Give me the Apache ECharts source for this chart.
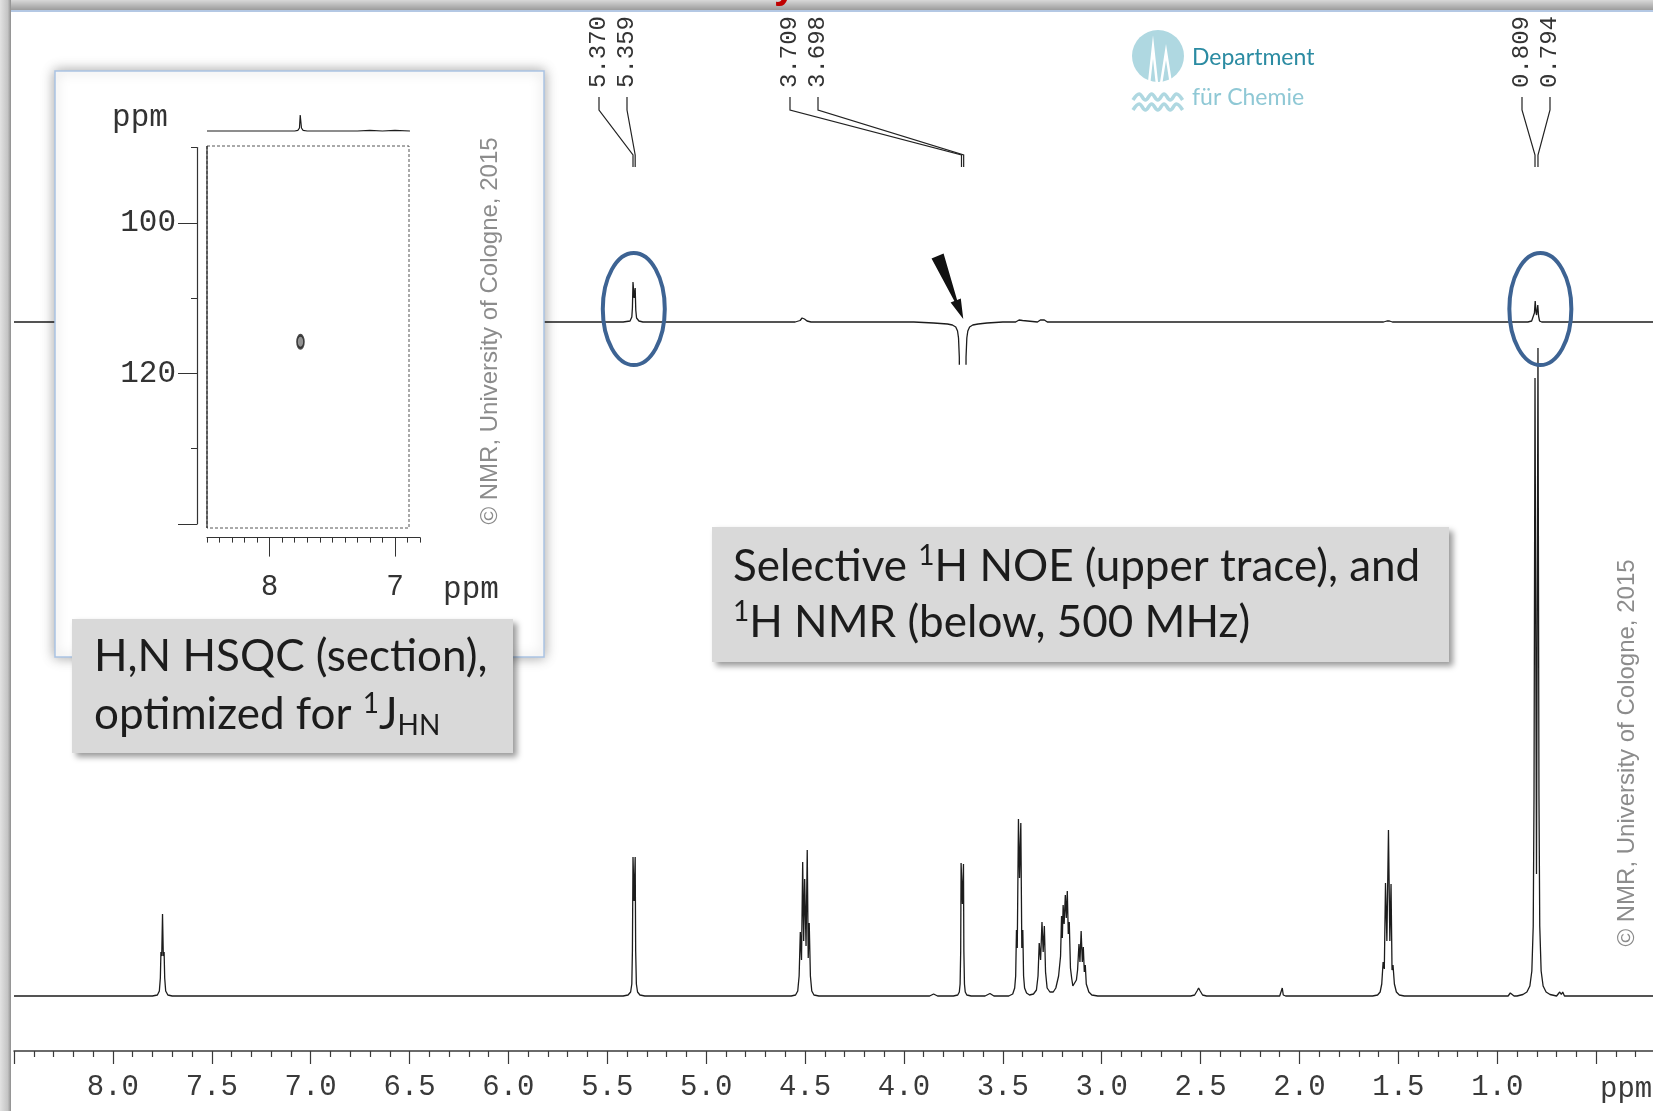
<!DOCTYPE html>
<html>
<head>
<meta charset="utf-8">
<title>Selective NOE / 1H NMR</title>
<script src="https://cdn.jsdelivr.net/npm/echarts@6/dist/echarts.min.js"></script>
<style>
html,body{margin:0;padding:0;background:#fff;}
#chart{width:1653px;height:1111px;}
</style>
</head>
<body>
<div id="chart"></div>
<script>
// 1H NMR trace (lower), [ppm, intensity]
var nmrTrace = [
  [8.50,0],[7.80,0],[7.775,1],[7.765,5],[7.760,18],[7.757,44],[7.753,40],[7.749,82],[7.745,40],[7.741,44],[7.738,18],[7.733,5],[7.722,1],[7.70,0],
  [5.42,0],[5.395,1],[5.382,4],[5.376,12],[5.373,45],[5.370,139],[5.3645,95],[5.359,139],[5.3565,45],[5.353,12],[5.347,4],[5.335,1],[5.31,0],
  [4.57,0],[4.548,1],[4.537,5],[4.530,20],[4.524,64],[4.518,36],[4.512,134],[4.507,55],[4.502,117],[4.495,50],[4.489,146],[4.484,38],[4.479,73],[4.473,20],[4.466,5],[4.455,1],[4.43,0],
  [3.87,0],[3.85,2],[3.83,0],
  [3.75,0],[3.728,1],[3.720,4],[3.716,12],[3.713,45],[3.711,133],[3.7045,92],[3.699,132],[3.697,45],[3.694,12],[3.690,4],[3.682,1],[3.66,0],
  [3.59,0],[3.565,2.5],[3.545,0],
  [3.47,0],[3.450,2],[3.440,8],[3.435,20],[3.431,66],[3.427,48],[3.421,177],[3.4155,118],[3.409,173],[3.404,48],[3.399,66],[3.395,20],[3.390,8],[3.380,3],[3.365,1],
  [3.345,2],[3.330,6],[3.322,20],[3.316,53],[3.309,36],[3.302,74],[3.296,44],[3.290,70],[3.284,24],[3.276,8],[3.262,4],[3.245,4],
  [3.232,8],[3.218,20],[3.208,40],[3.203,80],[3.199,58],[3.195,91],[3.190,72],[3.184,101],[3.179,78],[3.174,105],[3.169,62],[3.164,74],[3.158,28],[3.152,18],[3.146,10],[3.138,9],
  [3.128,16],[3.122,26],[3.115,52],[3.110,34],[3.104,65],[3.098,34],[3.093,49],[3.088,24],[3.083,31],[3.078,12],[3.072,14],[3.065,4],[3.050,1],[3.02,0],
  [2.55,0],[2.530,1],[2.518,5],[2.510,8],[2.502,5],[2.490,1],[2.47,0],
  [2.10,0],[2.092,1],[2.087,8],[2.082,1],[2.07,0],
  [1.63,0],[1.605,1],[1.592,4],[1.584,12],[1.577,34],[1.571,27],[1.565,113],[1.558,55],[1.550,166],[1.543,55],[1.537,112],[1.532,26],[1.527,31],[1.520,12],[1.510,4],[1.495,1],[1.47,0],
  [0.945,0],[0.934,3],[0.930,1.5],[0.926,3],[0.915,0],
  [0.90,0],[0.87,1.5],[0.85,4],[0.835,10],[0.825,25],[0.818,70],[0.814,200],[0.809,618],[0.8015,122],[0.794,648],[0.789,200],[0.785,70],[0.778,25],[0.768,10],[0.753,4],[0.733,1.5],[0.70,0],
  [0.69,0],[0.684,4],[0.676,1.5],[0.669,4],[0.66,0],
  [0.00,0]
];

// selective NOE trace (upper), [ppm, intensity]; the 3.70 dip runs off the bottom
var noeTrace = [
  [8.50,0],[5.42,0],[5.385,1],[5.376,5],[5.373,14],[5.370,40],[5.3645,24],[5.359,34],[5.356,12],[5.352,4],[5.34,1],[5.32,0],
  [4.55,0],[4.525,1.5],[4.515,4],[4.510,5],[4.503,3],[4.49,1],[4.47,0],
  [3.95,0],[3.85,-1],[3.78,-2],[3.755,-3],[3.738,-5],[3.729,-9],[3.724,-16],[3.720,-35],[3.717,-200],[3.689,-200],[3.686,-35],[3.682,-16],[3.677,-9],[3.668,-5],[3.652,-3],[3.625,-2],[3.58,-1],[3.50,0],
  [3.435,0],[3.418,2],[3.410,2.5],[3.400,1.5],[3.39,0],
  [3.325,0],[3.310,2],[3.300,3],[3.290,2],[3.275,0],
  [1.575,0],[1.558,1],[1.545,1],[1.53,0],
  [0.845,0],[0.826,1],[0.816,3],[0.812,9],[0.808,21],[0.804,10],[0.801,7],[0.798,9],[0.795,17],[0.791,6],[0.786,1],[0.775,0],
  [0.00,0]
];

// HSQC inset: 1H projection and the single H,N cross peak [1H ppm, 15N ppm]
var hsqcProjection = [
  [8.50,0],[7.80,0],[7.775,0.6],[7.762,3],[7.756,16],[7.752,16],[7.746,3],[7.733,0.6],[7.70,0],
  [7.30,0],[7.20,0.6],[7.10,0],[7.00,0.6],[6.88,0]
];
var hsqcPeaks = [[7.754, 115.8]];

// tick labels
var ppmTickLabels = ['8.0','7.5','7.0','6.5','6.0','5.5','5.0','4.5','4.0','3.5','3.0','2.5','2.0','1.5','1.0'];
var hsqcHTicks = [6.8,6.9,7.0,7.1,7.2,7.3,7.4,7.5,7.6,7.7,7.8,7.9,8.0,8.1,8.2,8.3,8.4,8.5];
var hsqcHLabels = [7, 8];
var hsqcNTicks = [90,100,110,120,130,140];
var hsqcNMajor = [100,120,140];
var hsqcNLabels = [100,120];

// peak picking labels above the NOE trace
var peakLabels = ['5.370','5.359','3.709','3.698','0.809','0.794'];
var peakLabelX = [599, 627, 790, 818, 1522, 1550];
var circledPpm = [5.366, 0.782];

var MONO = '"Liberation Mono","DejaVu Sans Mono",monospace';
var SANS = '"Liberation Sans",Arial,sans-serif';
var CAL = 'Lato,"Open Sans",sans-serif';
var INK = '#1c1c1c';

var chart = echarts.init(document.getElementById('chart'));

var hiddenX = function (grid, min, max) {
  return {type:'value', gridIndex:grid, min:min, max:max, inverse:true, show:false};
};
var hiddenY = function (grid, min, max) {
  return {type:'value', gridIndex:grid, min:min, max:max, show:false};
};

chart.setOption({
  backgroundColor:'#fff',
  animation:false,
  grid:[
    {left:14, right:-42, top:296, bottom:60, outerBoundsMode:'none', containLabel:false},      // 1H spectrum + ppm axis
    {left:14, right:-42, top:222, bottom:747, outerBoundsMode:'none', containLabel:false},     // NOE trace
    {left:207, right:1233, top:147.6, bottom:587, outerBoundsMode:'none', containLabel:false}, // HSQC 2D
    {left:207, right:1233, top:100, bottom:978, outerBoundsMode:'none', containLabel:false}    // HSQC projection
  ],
  xAxis:[
    {type:'value', gridIndex:0, min:0, max:8.5, interval:0.5, inverse:true,
     axisLine:{onZero:false, lineStyle:{color:'#3a3a3a', width:1.5}},
     axisTick:{length:13, lineStyle:{color:'#3a3a3a', width:1.2}},
     minorTick:{show:true, splitNumber:5, length:6, lineStyle:{color:'#3a3a3a', width:1.2}},
     splitLine:{show:false},
     axisLabel:{margin:22, fontFamily:MONO, fontSize:29, color:'#3a3a3a',
       formatter:function (v) { var s = v.toFixed(1); return ppmTickLabels.indexOf(s) >= 0 ? s : ''; }}},
    hiddenX(1, 0, 8.5),
    {type:'value', gridIndex:2, min:6.8, max:8.5, inverse:true, position:'bottom', offset:13.6, z:20,
     axisLine:{onZero:false, lineStyle:{color:'#333', width:1.2}},
     axisTick:{customValues:hsqcHTicks, length:5, lineStyle:{color:'#333', width:1}},
     axisLabel:{show:false}, splitLine:{show:false}},
    {type:'value', gridIndex:2, min:6.8, max:8.5, inverse:true, position:'bottom', offset:13.6, z:20,
     axisLine:{show:false, onZero:false},
     axisTick:{customValues:hsqcHLabels, length:19, lineStyle:{color:'#333', width:1}},
     axisLabel:{customValues:hsqcHLabels, margin:35, fontFamily:SANS, fontSize:29, color:'#333'},
     splitLine:{show:false}},
    hiddenX(3, 6.8, 8.5)
  ],
  yAxis:[
    hiddenY(0, -55, 700),
    hiddenY(1, -42, 100),
    {type:'value', gridIndex:2, min:90, max:140, inverse:true, position:'left', offset:10, z:20,
     axisLine:{show:true, onZero:false, lineStyle:{color:'#333', width:1.2}},
     axisTick:{show:true, customValues:hsqcNTicks, length:6, lineStyle:{color:'#333', width:1}},
     axisLabel:{show:false}, splitLine:{show:false}},
    {type:'value', gridIndex:2, min:90, max:140, inverse:true, position:'left', offset:10, z:20,
     axisLine:{show:false, onZero:false},
     axisTick:{show:true, customValues:hsqcNMajor, length:19, lineStyle:{color:'#333', width:1}},
     axisLabel:{customValues:hsqcNLabels, margin:21, fontFamily:MONO, fontSize:31, color:'#333'},
     splitLine:{show:false}},
    hiddenY(3, -2, 31)
  ],
  series:[
    {type:'line', xAxisIndex:0, yAxisIndex:0, data:nmrTrace, showSymbol:false, silent:true,
     lineStyle:{color:INK, width:1.3}},
    {type:'line', xAxisIndex:1, yAxisIndex:1, data:noeTrace, showSymbol:false, silent:true,
     lineStyle:{color:INK, width:1.3}},
    {type:'line', xAxisIndex:4, yAxisIndex:4, data:hsqcProjection, showSymbol:false, silent:true, z:20,
     lineStyle:{color:INK, width:1.2}},
    {type:'scatter', xAxisIndex:2, yAxisIndex:2, data:hsqcPeaks, symbol:'circle', symbolSize:[7,13], z:20,
     itemStyle:{color:'#777', borderColor:INK, borderWidth:2.2}}
  ]
});

function toPx(seriesIndex, ppm, val) {
  return chart.convertToPixel({seriesIndex:seriesIndex}, [ppm, val]);
}

var g = [];

// frame bars of the slide
g.push({type:'rect', z:100, shape:{x:0, y:0, width:1653, height:10},
  style:{fill:new echarts.graphic.LinearGradient(0,0,0,1,[{offset:0,color:'#d8d8d8'},{offset:1,color:'#9c9c9c'}])}});
g.push({type:'line', z:100, shape:{x1:0, y1:11, x2:1653, y2:11}, style:{stroke:'#b4c8e4', lineWidth:2}});
g.push({type:'rect', z:100, shape:{x:0, y:0, width:11, height:1111},
  style:{fill:new echarts.graphic.LinearGradient(0,0,1,0,[{offset:0,color:'#e2e2e2'},{offset:0.7,color:'#c4c4c4'},{offset:1,color:'#8e8e8e'}])}});
g.push({type:'text', z:101, x:785, y:7,
  style:{text:'y', font:'bold 40px ' + SANS, fill:'#c00000', align:'center', verticalAlign:'bottom'}});

// HSQC inset panel
g.push({type:'rect', z:10, shape:{x:55, y:71, width:489, height:586},
  style:{fill:'#fff', stroke:'#aac3e4', lineWidth:1.5, shadowBlur:12, shadowColor:'rgba(0,0,0,0.35)'}});
g.push({type:'rect', z:21, shape:{x:207, y:146, width:202, height:382},
  style:{fill:'none', stroke:'#555', lineWidth:1, lineDash:[3,2]}});
g.push({type:'line', z:21, shape:{x1:207, y1:146, x2:207, y2:528}, style:{stroke:'#222', lineWidth:1.2}});
g.push({type:'text', z:21, x:140, y:118,
  style:{text:'ppm', font:'31px ' + MONO, fill:'#333', align:'center', verticalAlign:'middle'}});
g.push({type:'text', z:21, x:471, y:590,
  style:{text:'ppm', font:'31px ' + MONO, fill:'#333', align:'center', verticalAlign:'middle'}});
g.push({type:'text', z:22, x:490, y:331, rotation:Math.PI / 2,
  style:{text:'\u00a9 NMR, University of Cologne, 2015', font:'24px ' + SANS, fill:'#8c8c8c', align:'center', verticalAlign:'middle'}});

// copyright, right edge
g.push({type:'text', z:22, x:1627, y:753, rotation:Math.PI / 2,
  style:{text:'\u00a9 NMR, University of Cologne, 2015', font:'24px ' + SANS, fill:'#8c8c8c', align:'center', verticalAlign:'middle'}});

// department logo
g.push({type:'circle', z:22, shape:{cx:1158, cy:56, r:26}, style:{fill:'#afd8e1'}});
g.push({type:'polyline', z:23, shape:{points:[[1149,84],[1153,47],[1157,84]]}, style:{stroke:'#fff', lineWidth:2.5, fill:'none'}});
g.push({type:'polyline', z:23, shape:{points:[[1161,84],[1166,52],[1171,84]]}, style:{stroke:'#fff', lineWidth:2.5, fill:'none'}});
[97, 107].forEach(function (wy) {
  var pts = [];
  for (var k = 0; k <= 8; k++) pts.push([1133 + k * 6.2, wy + (k % 2 ? -3 : 3)]);
  g.push({type:'polyline', z:22, shape:{points:pts, smooth:0.4}, style:{stroke:'#afd8e1', lineWidth:3.5, fill:'none'}});
});
g.push({type:'text', z:22, x:1192, y:58,
  style:{text:'Department', font:'23px ' + CAL, fill:'#2b8ba2', align:'left', verticalAlign:'middle'}});
g.push({type:'text', z:22, x:1192, y:98,
  style:{text:'f\u00fcr Chemie', font:'23px ' + CAL, fill:'#8fc8d5', align:'left', verticalAlign:'middle'}});

// peak labels and connector lines
peakLabels.forEach(function (lab, i) {
  var lx = peakLabelX[i];
  var bx = toPx(1, parseFloat(lab), 0)[0];
  g.push({type:'text', z:22, x:lx, y:88, rotation:Math.PI / 2,
    style:{text:lab, font:'24px ' + MONO, fill:'#333', align:'left', verticalAlign:'middle'}});
  g.push({type:'polyline', z:22, shape:{points:[[lx,97],[lx,110],[bx,155],[bx,167]]},
    style:{stroke:'#222', lineWidth:1.2, fill:'none'}});
});

// circled NOE peaks
circledPpm.forEach(function (p) {
  var c = toPx(1, p, 13);
  g.push({type:'ellipse', z:50, shape:{cx:c[0], cy:c[1], rx:31, ry:56},
    style:{fill:'none', stroke:'#3d6393', lineWidth:4}});
});

// arrow to the saturated 3.70 ppm signal
(function () {
  var tail = toPx(1, 3.83, 66), tip = toPx(1, 3.700, 3);
  var dx = tip[0] - tail[0], dy = tip[1] - tail[1], L = Math.sqrt(dx * dx + dy * dy);
  var ux = dx / L, uy = dy / L, nx = -uy, ny = ux;
  function at(d, w) { return [tail[0] + ux * d + nx * w, tail[1] + uy * d + ny * w]; }
  var neck = L - 20;
  g.push({type:'polygon', z:50, shape:{points:[at(0,-6.5), at(neck,-1.5), at(neck,-5.5), tip, at(neck,5.5), at(neck,1.5), at(0,6.5)]},
    style:{fill:'#111'}});
})();

// gray caption boxes
var boxShadow = {shadowBlur:6, shadowOffsetX:4, shadowOffsetY:4, shadowColor:'rgba(0,0,0,0.4)'};
g.push({type:'rect', z:60, shape:{x:72, y:619, width:441, height:134},
  style:Object.assign({fill:'#d9d9d9'}, boxShadow)});
g.push({type:'rect', z:60, shape:{x:712, y:527, width:737, height:135},
  style:Object.assign({fill:'#d9d9d9'}, boxShadow)});

var capRich = {
  s:{fontSize:28, fontFamily:CAL, fill:INK, verticalAlign:'top', lineHeight:50},
  b:{fontSize:28, fontFamily:CAL, fill:INK, verticalAlign:'bottom', lineHeight:50},
  n:{fontSize:44, fontFamily:CAL, fill:INK, lineHeight:50}
};
function caption(x, y, txt) {
  g.push({type:'text', z:61, x:x, y:y,
    style:{text:txt, rich:capRich, fontSize:44, fontFamily:CAL, fill:INK, align:'left', verticalAlign:'middle'}});
}
caption(94, 657, '{n|H,N HSQC (section),}');
caption(94, 715, '{n|optimized for }{s|1}{n|J}{b|HN}');
caption(733, 567, '{n|Selective }{s|1}{n|H NOE (upper trace), and}');
caption(733, 623, '{s|1}{n|H NMR (below, 500 MHz)}');

// axis unit at the right end
g.push({type:'text', z:22, x:1600, y:1089,
  style:{text:'ppm', font:'29px ' + MONO, fill:'#3a3a3a', align:'left', verticalAlign:'middle'}});

chart.setOption({graphic:g});
</script>
</body>
</html>
